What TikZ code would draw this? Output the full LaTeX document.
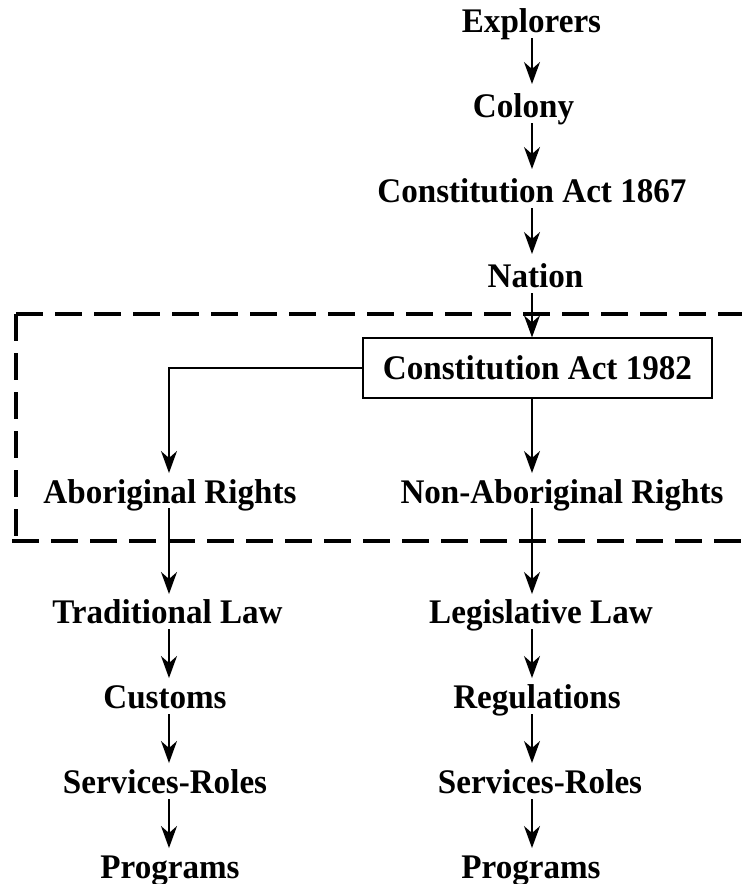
\documentclass[tikz,border=0pt]{standalone}
\usepackage{fontspec}
\setmainfont{Liberation Serif}[FakeStretch=0.96]
\usetikzlibrary{arrows.meta}
\begin{document}
\begin{tikzpicture}[x=1pt,y=-1pt,
  lbl/.style={anchor=base,inner sep=0pt,outer sep=0pt,text height=22pt,text depth=0pt,
    font=\fontsize{34.5}{34.5}\selectfont\bfseries},
  arr/.style={line width=1.3pt,-{Stealth[length=22pt,width=16pt,inset=7pt]}},
  frame/.style={line width=3.5pt,dash pattern=on 27pt off 12pt},
  boxed/.style={draw,line width=1.2pt,inner sep=0pt,minimum width=349pt,minimum height=60pt,
    font=\fontsize{34.5}{34.5}\selectfont\bfseries}]
\useasboundingbox (0,0) rectangle (742,884);
\coordinate (colR) at (532,0);
\coordinate (colL) at (169,0);
% top chain
\node[lbl] (explorers) at (531.5,32) {Explorers};
\node[lbl] (colony) at (523.5,117) {Colony};
\node[lbl] (ca1867) at (532,202) {Constitution Act 1867};
\node[lbl] (nation) at (535.5,287) {Nation};
\node[boxed] (ca1982) at (537.5,368) {Constitution Act 1982};
\node[lbl] (abr) at (170,503) {Aboriginal Rights};
\node[lbl] (nabr) at (562,503) {Non-Aboriginal Rights};
\node[lbl] (trad) at (167.5,623) {Traditional Law};
\node[lbl] (cust) at (165,708) {Customs};
\node[lbl] (servL) at (165,793) {Services-Roles};
\node[lbl] (progL) at (170,878) {Programs};
\node[lbl] (legis) at (541,623) {Legislative Law};
\node[lbl] (regs) at (537,708) {Regulations};
\node[lbl] (servR) at (540,793) {Services-Roles};
\node[lbl] (progR) at (531,878) {Programs};
% dashed frame
\draw[frame] (16,314) -- (760,314);
\draw[frame] (16,314) -- (16,541);
\draw[frame] (12,541) -- (760,541);
% arrows top chain
\draw[arr,shorten <=6pt,shorten >=11pt] (explorers.south -| colR) -- (colony.north -| colR);
\draw[arr,shorten <=6pt,shorten >=11pt] (colony.south -| colR) -- (ca1867.north -| colR);
\draw[arr,shorten <=6pt,shorten >=11pt] (ca1867.south -| colR) -- (nation.north -| colR);
\draw[arr,shorten <=6pt] (nation.south -| colR) -- (ca1982.north -| colR);
% split
\draw[arr,shorten >=8pt] (ca1982.west) -| (abr.north -| colL);
\draw[arr,shorten >=8pt] (ca1982.south -| colR) -- (nabr.north -| colR);
% left chain
\draw[arr,shorten <=5pt,shorten >=7pt] (abr.south -| colL) -- (trad.north -| colL);
\draw[arr,shorten <=6pt,shorten >=8pt] (trad.south -| colL) -- (cust.north -| colL);
\draw[arr,shorten <=6pt,shorten >=8pt] (cust.south -| colL) -- (servL.north -| colL);
\draw[arr,shorten <=6pt,shorten >=8pt] (servL.south -| colL) -- (progL.north -| colL);
% right chain
\draw[arr,shorten <=5pt,shorten >=7pt] (nabr.south -| colR) -- (legis.north -| colR);
\draw[arr,shorten <=6pt,shorten >=8pt] (legis.south -| colR) -- (regs.north -| colR);
\draw[arr,shorten <=6pt,shorten >=8pt] (regs.south -| colR) -- (servR.north -| colR);
\draw[arr,shorten <=6pt,shorten >=8pt] (servR.south -| colR) -- (progR.north -| colR);
\end{tikzpicture}
\end{document}
